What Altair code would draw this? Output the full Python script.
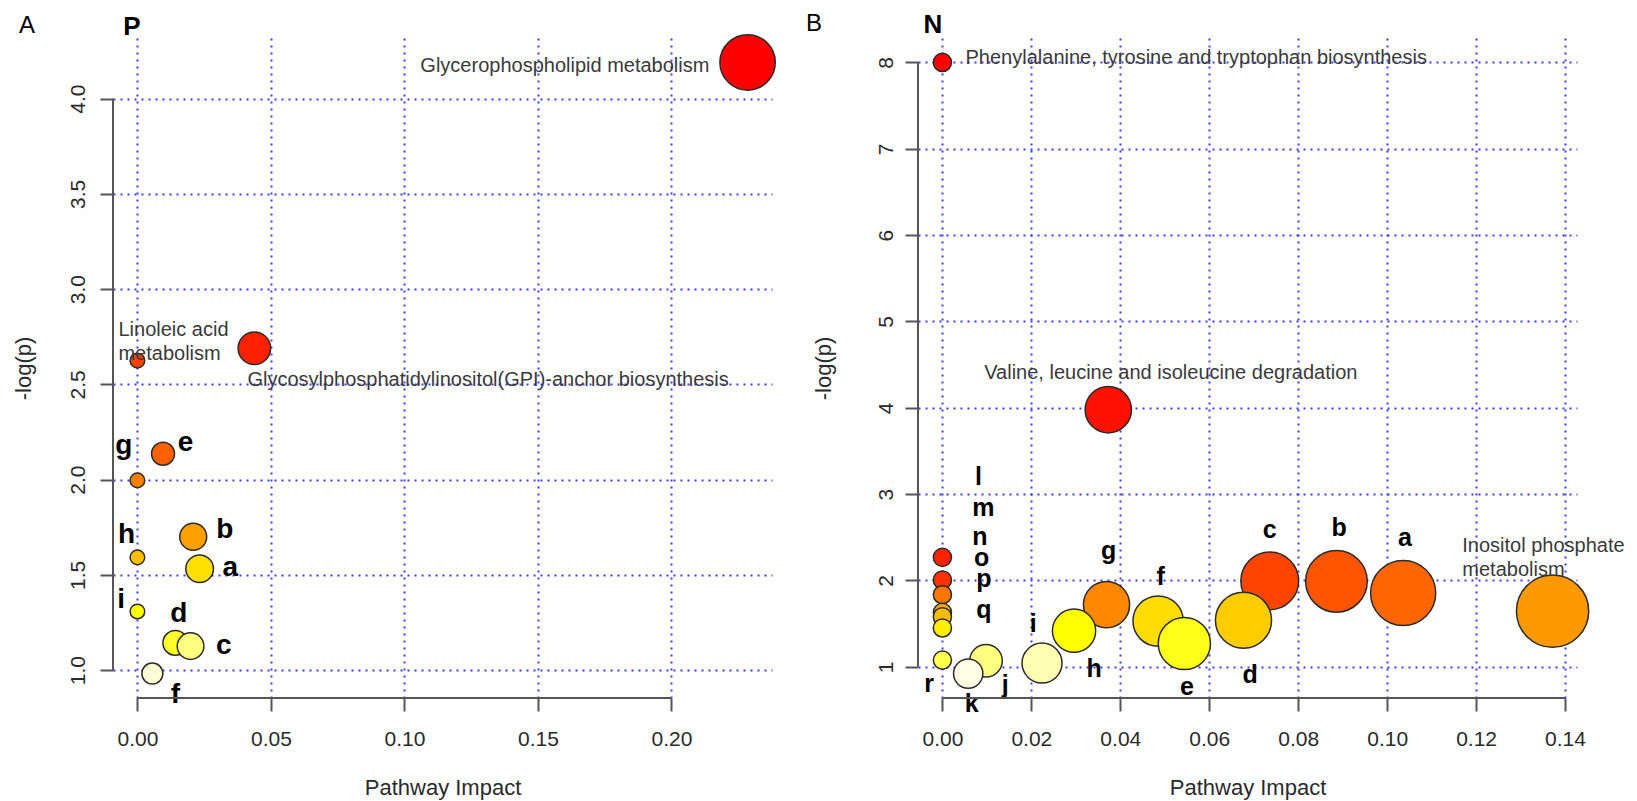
import altair as alt
import pandas as pd
import colorsys

FONT = "Liberation Sans, Arial, Helvetica, sans-serif"

# ---------------- Panel A : "P" ----------------
p_names = ["Glycerophospholipid metabolism",
           "Glycosylphosphatidylinositol(GPI)-anchor biosynthesis",
           "Linoleic acid metabolism", "e", "g", "b", "h", "a", "i", "d", "c", "f"]
p_impact = [0.2285, 0.0438, 0.0, 0.0096, 0.0, 0.0209, 0.0, 0.0233, 0.0, 0.0142, 0.0199, 0.0056]
p_logp = [4.19, 2.69, 2.625, 2.136, 1.996, 1.70, 1.592, 1.532, 1.308, 1.143, 1.126, 0.982]

p_xticks = [0.00, 0.05, 0.10, 0.15, 0.20]
p_yticks = [1.0, 1.5, 2.0, 2.5, 3.0, 3.5, 4.0]

# pathway-name annotations (data units)
p_lab_left_text = ["Glycosylphosphatidylinositol(GPI)-anchor biosynthesis", "Linoleic acid\nmetabolism"]
p_lab_left_x = [0.0412, -0.0071]
p_lab_left_y = [2.523, 2.786]
p_lab_right_text = ["Glycerophospholipid metabolism"]
p_lab_right_x = [0.2142]
p_lab_right_y = [4.171]

# letter annotations (data units)
p_letters = ["g", "e", "b", "h", "a", "i", "d", "c", "f"]
p_letter_x = [-0.0051, 0.0180, 0.0327, -0.0041, 0.0348, -0.0061, 0.0155, 0.0323, 0.0142]
p_letter_y = [2.178, 2.193, 1.738, 1.709, 1.536, 1.367, 1.297, 1.125, 0.868]

# ---------------- Panel B : "N" ----------------
n_names = ["Phenylalanine, tyrosine and tryptophan biosynthesis",
           "Valine, leucine and isoleucine degradation",
           "a", "b", "c", "d", "e", "f", "g", "h", "i", "j", "k",
           "l", "m", "n", "o", "p", "q", "r",
           "Inositol phosphate metabolism"]
n_impact = [0.0, 0.0373, 0.1036, 0.0886, 0.0736, 0.0677, 0.0544, 0.0485, 0.0369, 0.0296,
            0.0224, 0.0098, 0.0058, 0.0, 0.0, 0.0, 0.0, 0.0, 0.0, 0.0, 0.1372]
n_logp = [8.00, 3.978, 1.855, 1.99, 1.995, 1.54, 1.27, 1.53, 1.72, 1.418,
          1.043, 1.07, 0.922, 2.268, 2.006, 1.835, 1.63, 1.58, 1.45, 1.078, 1.645]

n_xticks = [0.00, 0.02, 0.04, 0.06, 0.08, 0.10, 0.12, 0.14]
n_yticks = [1, 2, 3, 4, 5, 6, 7, 8]

n_lab_left_text = ["Phenylalanine, tyrosine and tryptophan biosynthesis",
                   "Valine, leucine and isoleucine degradation",
                   "Inositol phosphate\nmetabolism"]
n_lab_left_x = [0.0052, 0.0094, 0.1169]
n_lab_left_y = [8.05, 4.403, 2.404]
n_lab_right_text = []
n_lab_right_x = []
n_lab_right_y = []

n_letters = ["l", "m", "n", "o", "p", "q", "r", "k", "j", "i", "h", "g", "f", "e", "d", "c", "b", "a"]
n_letter_x = [0.0081, 0.0092, 0.0084, 0.0088, 0.0093, 0.0093, -0.0030, 0.0066, 0.0141,
              0.0204, 0.0341, 0.0374, 0.0491, 0.0550, 0.0692, 0.0736, 0.0892, 0.1040]
n_letter_y = [3.195, 2.843, 2.507, 2.255, 2.014, 1.659, 0.805, 0.565, 0.787,
              1.493, 0.971, 2.336, 2.035, 0.767, 0.902, 2.584, 2.603, 2.495]


def hsv_hex(h, s, v):
    r, g, b = colorsys.hsv_to_rgb(h, s, v)
    return "#%02x%02x%02x" % (int(r * 255 + 0.5), int(g * 255 + 0.5), int(b * 255 + 0.5))


def heat_colors(n):
    """R's heat.colors(n)"""
    j = n // 4
    i = n - j
    out = []
    for k in range(i):
        h = (1 / 6) * k / (i - 1) if i > 1 else 0.0
        out.append(hsv_hex(h, 1, 1))
    if j > 0:
        s0, s1 = 1 - 1 / (2 * j), 1 / (2 * j)
        for k in range(j):
            s = s0 + (s1 - s0) * k / (j - 1) if j > 1 else s0
            out.append(hsv_hex(1 / 6, s, 1))
    return out


def padded(vals):
    lo, hi = min(vals), max(vals)
    ext = 0.04 * (hi - lo)
    return [lo - ext, hi + ext]


AX_COLOR = "#555555"
GRID_COLOR = "#3c3cff"


def panel(names, impact, logp, r0, r1, xticks, yticks, xfmt, yfmt,
          lab_l, lab_lx, lab_ly, lab_r, lab_rx, lab_ry,
          letters, letx, lety, letter_size, corner, title, corner_xy, title_xy, title_size,
          ylab_pad, ytitle_pad):
    W, H = 659, 660
    xs = alt.Scale(domain=padded(impact), nice=False, zero=False)
    ys = alt.Scale(domain=padded(logp), nice=False, zero=False)
    xaxis = alt.Axis(values=xticks, format=xfmt, title="Pathway Impact", labelFlush=False,
                     labelOverlap=False, labelPadding=17, titlePadding=28)
    yaxis = alt.Axis(values=yticks, format=yfmt, title="-log(p)", labelAngle=270,
                     labelAlign="center", labelBaseline="bottom", labelFlush=False,
                     labelOverlap=False, labelPadding=ylab_pad, titlePadding=ytitle_pad)

    order = sorted(range(len(names)), key=lambda k: -logp[k])
    cols = heat_colors(len(names))
    df = pd.DataFrame({"name": names, "impact": impact, "logp": logp})
    rmax = max(impact) ** 0.5
    slope = (r1 - r0) / rmax

    circles = alt.Chart(df).transform_calculate(
        area=f"PI*pow({r0} + {slope}*sqrt(datum.impact) - 0.75, 2)"
    ).mark_circle(opacity=1, stroke="#2b2b2b", strokeWidth=1.5).encode(
        x=alt.X("impact:Q", scale=xs, axis=xaxis),
        y=alt.Y("logp:Q", scale=ys, axis=yaxis),
        size=alt.Size("area:Q", scale=None, legend=None),
        color=alt.Color("name:N", scale=alt.Scale(domain=[names[k] for k in order], range=cols),
                        legend=None),
        order=alt.Order("logp:Q", sort="descending"),
    )

    layers = [circles]

    def labels(txt, lx, ly, align):
        d = pd.DataFrame({"t": txt, "impact": lx, "logp": ly})
        return alt.Chart(d).mark_text(align=align, baseline="middle", font=FONT, fontSize=20,
                                      color="#3a3a3a", lineBreak="\n", lineHeight=24).encode(
            x=alt.X("impact:Q", scale=xs, axis=xaxis),
            y=alt.Y("logp:Q", scale=ys, axis=yaxis),
            text="t:N")

    if lab_l:
        layers.append(labels(lab_l, lab_lx, lab_ly, "left"))
    if lab_r:
        layers.append(labels(lab_r, lab_rx, lab_ry, "right"))

    dl = pd.DataFrame({"t": letters, "impact": letx, "logp": lety})
    layers.append(alt.Chart(dl).mark_text(align="center", baseline="middle", font=FONT,
                                          fontSize=letter_size, fontWeight="bold",
                                          color="black").encode(
        x=alt.X("impact:Q", scale=xs, axis=xaxis),
        y=alt.Y("logp:Q", scale=ys, axis=yaxis),
        text="t:N"))

    # R-style axis lines that span only the tick range
    dx = pd.DataFrame({"impact": [xticks[0]], "impact2": [xticks[-1]]})
    layers.append(alt.Chart(dx).mark_rule(color=AX_COLOR, strokeWidth=2).encode(
        x=alt.X("impact:Q", scale=xs, axis=xaxis), x2="impact2:Q", y=alt.value(H)))
    dy = pd.DataFrame({"logp": [yticks[0]], "logp2": [yticks[-1]]})
    layers.append(alt.Chart(dy).mark_rule(color=AX_COLOR, strokeWidth=2).encode(
        y=alt.Y("logp:Q", scale=ys, axis=yaxis), y2="logp2:Q", x=alt.value(0)))

    # panel letter and panel title
    dc = pd.DataFrame({"t": [corner]})
    layers.append(alt.Chart(dc).mark_text(align="center", baseline="middle", font=FONT,
                                          fontSize=24, color="black").encode(
        text="t:N", x=alt.value(corner_xy[0]), y=alt.value(corner_xy[1])))
    dt = pd.DataFrame({"t": [title]})
    layers.append(alt.Chart(dt).mark_text(align="center", baseline="middle", font=FONT,
                                          fontSize=title_size, fontWeight="bold",
                                          color="black").encode(
        text="t:N", x=alt.value(title_xy[0]), y=alt.value(title_xy[1])))

    return alt.layer(*layers).properties(width=W, height=H)


left = panel(p_names, p_impact, p_logp, 9.0, 32.0, p_xticks, p_yticks, ".2f", ".1f",
             p_lab_left_text, p_lab_left_x, p_lab_left_y,
             p_lab_right_text, p_lab_right_x, p_lab_right_y,
             p_letters, p_letter_x, p_letter_y, 28,
             "A", "P", (-86, -12), (19, -11), 26, 12, 32)

right = panel(n_names, n_impact, n_logp, 11.0, 41.5, n_xticks, n_yticks, ".2f", "d",
              n_lab_left_text, n_lab_left_x, n_lab_left_y,
              n_lab_right_text, n_lab_right_x, n_lab_right_y,
              n_letters, n_letter_x, n_letter_y, 25,
              "B", "N", (-104, -14), (15, -13), 26, 9, 40)

chart = alt.hconcat(left, right, spacing=146, bounds="flush").resolve_scale(
    color="independent", size="independent"
).properties(
    padding={"left": 4, "top": 4, "right": 2, "bottom": 2},
    background="white",
).configure_view(stroke=None).configure_axis(
    domain=False,
    ticks=True, tickSize=13, tickColor=AX_COLOR, tickWidth=2,
    grid=True, gridColor=GRID_COLOR, gridDash=[2, 5], gridWidth=2,
    labelFont=FONT, labelFontSize=21, labelColor="#2a2a2a",
    titleFont=FONT, titleFontSize=22, titleColor="#2a2a2a", titleFontWeight="normal",
)

chart.save("out.html", embed_options={"renderer": "svg", "actions": False})
